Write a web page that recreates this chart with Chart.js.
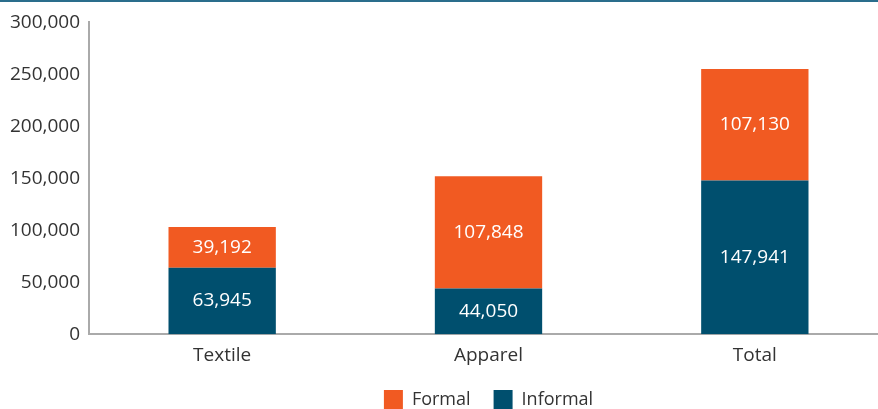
<!DOCTYPE html>
<html>
<head>
<meta charset="utf-8">
<script src="https://cdn.jsdelivr.net/npm/chart.js@4"></script>
<style>
  html, body { margin: 0; padding: 0; background: #fff; }
  body { width: 878px; height: 409px; overflow: hidden; }
  #wrap { width: 878px; height: 407px; border-top: 2px solid #2a6d8c; overflow: hidden; position: relative; }
  #box { width: 888px; height: 407px; }
</style>
</head>
<body>
<div id="wrap"><div id="box"><canvas id="myCanvas"></canvas></div></div>
<script>
const categories = ["Textile", "Apparel", "Total"];
const informal = [63945, 44050, 147941];
const formal = [39192, 107848, 107130];
const yTicks = [0, 50000, 100000, 150000, 200000, 250000, 300000];

const fontFamily = "'Open Sans', sans-serif";
const fmt = v => v.toLocaleString('en-US');

// white value in the middle of each bar segment
const barLabels = {
   id: 'barLabels',
   afterDatasetsDraw(chart) {
      const ctx = chart.ctx;
      ctx.save();
      ctx.fillStyle = '#fff';
      ctx.font = '19px ' + fontFamily;
      ctx.textAlign = 'center';
      ctx.textBaseline = 'middle';
      chart.data.datasets.forEach((ds, i) => {
         chart.getDatasetMeta(i).data.forEach((bar, j) => {
            const p = bar.getProps(['x', 'y', 'base'], true);
            ctx.fillText(fmt(ds.data[j]), p.x, (p.y + p.base) / 2);
         });
      });
      ctx.restore();
   }
};

new Chart(document.getElementById("myCanvas").getContext("2d"), {
   type: "bar",
   data: {
      labels: categories,
      datasets: [
         { label: "Informal", data: informal, backgroundColor: "#004f6e" },
         { label: "Formal", data: formal, backgroundColor: "#f15a22" }
      ]
   },
   options: {
      responsive: true,
      maintainAspectRatio: false,
      animation: false,
      layout: { padding: { top: 15, left: 0, right: 0, bottom: -10 } },
      datasets: { bar: { categoryPercentage: 1, barPercentage: 0.403 } },
      scales: {
         x: {
            stacked: true,
            afterFit: s => { s.height -= 10; },
            grid: { display: false, drawTicks: false },
            border: { color: '#aaa', width: 2 },
            ticks: { color: '#333', font: { family: fontFamily, size: 19 }, padding: 10 }
         },
         y: {
            stacked: true,
            min: 0,
            max: 300000,
            afterBuildTicks: s => { s.ticks = yTicks.map(v => ({ value: v })); },
            afterFit: s => { s.width = 89; },
            grid: { display: false, drawTicks: false },
            border: { color: '#aaa', width: 2 },
            ticks: { color: '#333', font: { family: fontFamily, size: 19 }, padding: 9, callback: v => fmt(v) }
         }
      },
      plugins: {
         tooltip: { enabled: false },
         legend: {
            position: 'bottom',
            fullSize: false,
            reverse: true,
            labels: {
               color: '#333',
               font: { family: fontFamily, size: 18 },
               boxWidth: 19,
               boxHeight: 19,
               padding: 23
            }
         }
      }
   },
   plugins: [barLabels]
});
</script>
</body>
</html>
